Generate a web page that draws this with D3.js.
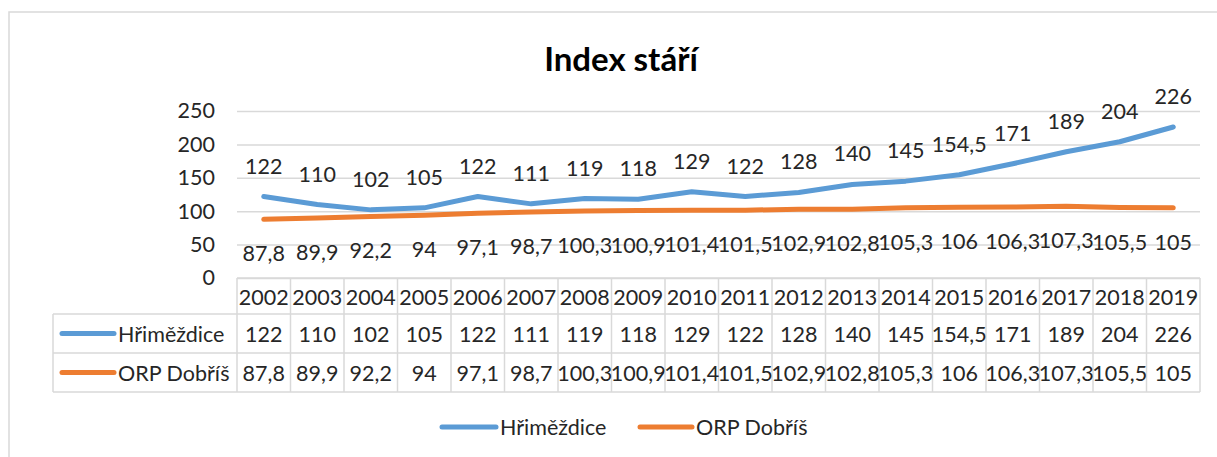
<!DOCTYPE html>
<html><head><meta charset="utf-8">
<script src="https://cdn.jsdelivr.net/npm/d3@7"></script>
<style>
body{margin:0;background:#fff}
svg{display:block}
text{font-family:Lato,"Noto Sans",sans-serif;fill:#262626}
</style>
</head><body>
<svg id="c" width="1217" height="457"></svg>
<script>
const title = "Index stáří";
const years = [2002,2003,2004,2005,2006,2007,2008,2009,2010,2011,2012,2013,2014,2015,2016,2017,2018,2019];
const hrimezdice = [122,110,102,105,122,111,119,118,129,122,128,140,145,154.5,171,189,204,226];
const orpDobris = [87.8,89.9,92.2,94,97.1,98.7,100.3,100.9,101.4,101.5,102.9,102.8,105.3,106,106.3,107.3,105.5,105];
const yTicks = [0,50,100,150,200,250];
const seriesNames = ["Hřiměždice","ORP Dobříš"];
const seriesColors = ["#5B9BD5","#ED7D31"];

const series = [
  {name: seriesNames[0], values: hrimezdice, color: seriesColors[0], labelDy: -31},
  {name: seriesNames[1], values: orpDobris, color: seriesColors[1], labelDy: 34}
];

const fmt = v => String(v).replace(".", ",");
const svg = d3.select("#c");
const W = 1217, H = 457;
const plotL = 237, plotR = 1200, plotT = 111, plotB = 278;
const grid = "#d9d9d9";
const FS = 21.5;

// outer chart border
svg.append("rect").attr("x", 9).attr("y", 12).attr("width", W + 10).attr("height", H + 10)
  .attr("fill", "#fff").attr("stroke", grid).attr("stroke-width", 1.5);

// title
svg.append("text").attr("x", 621).attr("y", 58).attr("text-anchor", "middle")
  .attr("dominant-baseline", "central").style("font-weight", "700").style("font-size", "33px")
  .style("fill", "#000").text(title);

const x = d3.scaleBand().domain(years).range([plotL, plotR]).padding(0);
const cx = yr => x(yr) + x.bandwidth() / 2;
const y = d3.scaleLinear().domain([0, 250]).range([plotB, plotT]);

// y axis with gridlines
const yAxis = d3.axisLeft(y).tickValues(yTicks).tickSizeInner(-(plotR - plotL)).tickSizeOuter(0).tickPadding(22);
const gy = svg.append("g").attr("transform", `translate(${plotL},0)`).call(yAxis);
gy.select(".domain").remove();
gy.selectAll(".tick line").attr("stroke", grid).attr("stroke-width", 1.5);
gy.selectAll(".tick text").style("font-size", FS + "px").style("font-family", "Lato").attr("fill", "#262626");

// lines
const line = d3.line().x((d, i) => cx(years[i])).y(d => y(d));
series.forEach(s => {
  svg.append("path").datum(s.values).attr("d", line).attr("fill", "none")
    .attr("stroke", s.color).attr("stroke-width", 5).attr("stroke-linejoin", "round").attr("stroke-linecap", "round");
});

// data labels
series.forEach(s => {
  svg.append("g").selectAll("text").data(s.values).join("text")
    .attr("x", (d, i) => cx(years[i])).attr("y", d => y(d) + s.labelDy)
    .attr("text-anchor", "middle").attr("dominant-baseline", "central")
    .style("font-size", FS + "px").text(d => fmt(d));
});

// data table
const rowEdges = [278, 314, 353, 392];
const labL = 53;
const tg = svg.append("g");
tg.append("line").attr("x1", plotL).attr("x2", plotR).attr("y1", rowEdges[0]).attr("y2", rowEdges[0]);
[1, 2, 3].forEach(r => tg.append("line").attr("x1", labL).attr("x2", plotR).attr("y1", rowEdges[r]).attr("y2", rowEdges[r]));
tg.append("line").attr("x1", labL).attr("x2", labL).attr("y1", rowEdges[1]).attr("y2", rowEdges[3]);
years.forEach(yr => tg.append("line").attr("x1", x(yr)).attr("x2", x(yr)).attr("y1", rowEdges[0]).attr("y2", rowEdges[3]));
tg.append("line").attr("x1", plotR).attr("x2", plotR).attr("y1", rowEdges[0]).attr("y2", rowEdges[3]);
tg.selectAll("line").attr("stroke", grid).attr("stroke-width", 1.5);

tg.append("g").selectAll("text").data(years).join("text")
  .attr("x", d => cx(d)).attr("y", (rowEdges[0] + rowEdges[1]) / 2 + 1)
  .attr("text-anchor", "middle").attr("dominant-baseline", "central")
  .style("font-size", FS + "px").text(d => d);

series.forEach((s, r) => {
  const ymid = (rowEdges[r + 1] + rowEdges[r + 2]) / 2;
  tg.append("line").attr("x1", 62).attr("x2", 114).attr("y1", ymid).attr("y2", ymid)
    .attr("stroke", s.color).attr("stroke-width", 5).attr("stroke-linecap", "round");
  tg.append("text").attr("x", 118).attr("y", ymid).attr("dominant-baseline", "central")
    .style("font-size", FS + "px").text(s.name);
  tg.append("g").selectAll("text").data(s.values).join("text")
    .attr("x", (d, i) => cx(years[i])).attr("y", ymid)
    .attr("text-anchor", "middle").attr("dominant-baseline", "central")
    .style("font-size", FS + "px").text(d => fmt(d));
});

// legend
const legend = [{x1: 442, x2: 496, tx: 500}, {x1: 640, x2: 692, tx: 696}];
series.forEach((s, i) => {
  const L = legend[i], ly = 427;
  svg.append("line").attr("x1", L.x1).attr("x2", L.x2).attr("y1", ly).attr("y2", ly)
    .attr("stroke", s.color).attr("stroke-width", 5).attr("stroke-linecap", "round");
  svg.append("text").attr("x", L.tx).attr("y", ly).attr("dominant-baseline", "central")
    .style("font-size", FS + "px").text(s.name);
});
</script>
</body></html>
